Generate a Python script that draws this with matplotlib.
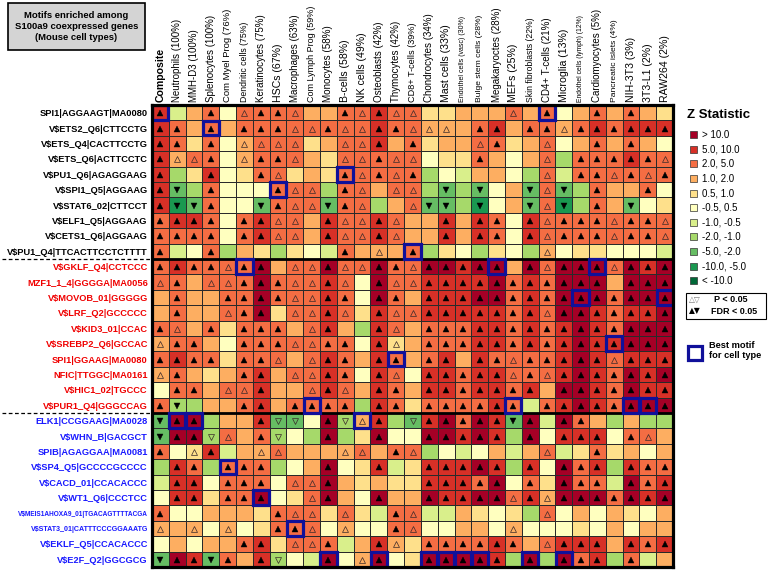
import numpy as np
import matplotlib
matplotlib.use('Agg')
import matplotlib.pyplot as plt
from matplotlib.colors import ListedColormap, BoundaryNorm
from matplotlib.patches import Rectangle

plt.rcParams['font.family'] = ['Liberation Sans', 'DejaVu Sans']

# cell types (columns)
cell_types = ['Composite', 'Neutrophils (100%)', 'MMH-D3 (100%)', 'Splenocytes (100%)',
              'Com Myel Prog (76%)', 'Dendritic cells (75%)', 'Keratinocytes (75%)', 'HSCs (67%)',
              'Macrophages (63%)', 'Com Lymph Prog (59%)', 'Monocytes (58%)', 'B-cells (58%)',
              'NK cells (49%)', 'Osteoblasts (42%)', 'Thymocytes (42%)', 'CD8+ T-cells (39%)',
              'Chondrocytes (34%)', 'Mast cells (33%)', 'Endothel cells (vasc) (30%)',
              'Bulge stem cells (28%)', 'Megakaryoctes (28%)', 'MEFs (25%)',
              'Skin fibroblasts (22%)', 'CD4+ T-cells (21%)', 'Microglia (13%)',
              'Endothel cells (lymph) (12%)', 'Cardiomyocytes (5%)', 'Pancreatic islets (4%)',
              'NIH-3T3 (3%)', '3T3-L1 (2%)', 'RAW264 (2%)']
header_size = [7.6, 7, 7, 7, 6.8, 6.3, 7, 7.6, 7, 6.5, 7.1, 7.6, 7.6, 7, 7, 6.6,
               7, 7.6, 5.0, 6.1, 7, 7.6, 6.2, 7, 7.6, 4.9, 7, 6.1, 7.6, 7.6, 7.6]

# motifs (rows), three groups
motifs_black = ['SPI1|AGGAAGT|MA0080', 'V$ETS2_Q6|CTTCCTG', 'V$ETS_Q4|CACTTCCTG',
                'V$ETS_Q6|ACTTCCTC', 'V$PU1_Q6|AGAGGAAG', 'V$SPI1_Q5|AGGAAG',
                'V$STAT6_02|CTTCCT', 'V$ELF1_Q5|AGGAAG', 'V$CETS1_Q6|AGGAAG',
                'V$PU1_Q4|TTCACTTCCTCTTTT']
motifs_red = ['V$GKLF_Q4|CCTCCC', 'MZF1_1_4|GGGGA|MA0056', 'V$MOVOB_01|GGGGG',
              'V$LRF_Q2|GCCCCC', 'V$KID3_01|CCAC', 'V$SREBP2_Q6|GCCAC',
              'SPI1|GGAAG|MA0080', 'NFIC|TTGGC|MA0161', 'V$HIC1_02|TGCCC',
              'V$PUR1_Q4|GGGCCAG']
motifs_blue = ['ELK1|CCGGAAG|MA0028', 'V$WHN_B|GACGCT', 'SPIB|AGAGGAA|MA0081',
               'V$SP4_Q5|GCCCCGCCCC', 'V$CACD_01|CCACACCC', 'V$WT1_Q6|CCCTCC',
               'V$MEIS1AHOXA9_01|TGACAGTTTTACGA', 'V$STAT3_01|CATTTCCCGGAAATG',
               'V$EKLF_Q5|CCACACCC', 'V$E2F_Q2|GGCGCG']

# Z statistic bin per cell: 5 >10, 4 5..10, 3 2..5, 2 1..2, 1 0.5..1, 0 -0.5..0.5,
# a -1..-0.5, b -2..-1, c -5..-2, d -10..-5, e < -10
zbin_rows = [
    '4a23033332' '2334331122' '23230232321',
    '4323233333' '3334332223' '42332343444',
    '4313023331' '2334231223' '31230232320',
    '4233023332' '1333330113' '2023b333433',
    '4b14013312' '133333b0a2' '20b3a333333',
    '4cb3000333' 'b33233bcbc' '02c3cb32230',
    '4dc300c333' 'c33b23ccbd' '02c3db32c01',
    '3443034332' '4334322424' '30433333333',
    '3333034332' '4334322424' '30433333333',
    '3a03b21b10' 'a32223b10b' '10b2011000a',
    '3433335233' '5335335545' '52535553545',
    '3323335333' '4305334444' '53435552555',
    '2322335333' '4305324445' '53435553555',
    '2322335133' '4314334444' '43435543445',
    '3323133323' '42b4323334' '43434543555',
    '2332033333' '3304123334' '43434544555',
    '3433133323' '4324323424' '33334543444',
    '2321234233' '4304304434' '43334543545',
    '0332334223' '4324324434' '43425543544',
    '3bb2234233' '33b4313333' '43a34543555',
    'c55b224cc0' '5b24bc4535' '4c5a532b2bb',
    'c55b323b0b' '5b15005545' '4b504440332',
    '3014a22322' '223233b0a0' '2a23a131202',
    'b43b333b02' '5014a14445' '4b40534b433',
    'a440333033' '5212114443' '5031533a534',
    '0441335013' '5205225445' '53425553545',
    '3002221333' '131a33aa21' '01b30202102',
    '2220201333' '0200330022' '02000102022',
    '0202234133' '3a24213333' '43234442434',
    'c54c324b0a' '5025015555' '4b5b534b3a2',
]

# significance: F up FDR<0.05, o up P<0.05, V down FDR<0.05, v down P<0.05
sig_rows = [
    'F..F.oFFo.' '.FoFoo....' '.o.F..F.F..',
    'FF.F.FFFoo' 'FooFFooo.F' 'F.FFoFFFFFF',
    'FF.F.oooo.' '.ooF.F...o' 'F..o..F.F..',
    'FooF.oFFo.' '.ooFoo...F' '...o.FFFFFo',
    'F..F..Fo..' '.FoFoF....' '...o.FFoFoF',
    'FV.F...Foo' '.Fo.oo.V.V' '..VoV.F..F.',
    'FVVF..VFoo' 'VFo..oVV.V' '..VoV.F.V..',
    'FFFF.FFoo.' 'FooFo..F.F' 'F.FoFFFoFFo',
    'FFFF.FFoo.' 'FooFo..F.F' 'F.FoFFFoFFo',
    'F..F......' '.F.o.F....' '...o.......',
    'FFFFoFF.oo' 'FooFFoFFFF' 'F.FoFFFoFFF',
    'oF.ooFFFoo' 'Fo.FooFFFF' 'FFFFFFF.FFF',
    '.F..FFFFoo' 'FF.FF.FFFF' 'FFFFFFFFFFF',
    '.F..oFF.oo' 'Fo.FooFFFF' 'FFFoFFFFFFF',
    'Fo.F.FFF.o' 'F..Fo.FFFF' 'FFFFFFFFFFF',
    'oFF..FFFoo' 'FF.Fo.FFFF' 'FFFFFFFFFFF',
    'FFFF.FFo.o' 'FF.FF.FF.F' 'FoFFFFFoFFF',
    'oF...FF.oo' 'FF.Fo.FFFF' 'FoFoFFFFFFF',
    '.FF.ooF..o' 'Fo.FF.FFFF' 'FFF.FFFFFFF',
    'FV...FF.FF' 'FF.FF.FFFF' 'FF.FFFFFFFF',
    'VFF...Fvv.' 'FvoF.vFFFF' 'FVF.FF.....',
    'VFFvo.Fv..' 'F..F..FFFF' 'F.F.FFF.Fo.',
    'F.oF..oo..' '.oo.Fo....' '...o..F....',
    '.FF.FFF...' 'F..F..FFFF' 'F.F.FFF.FFF',
    '.FF.FFF.oo' 'F.....FFFF' 'F.F.FFF.FFF',
    '.FF.FFF..o' 'F..F..FFFF' 'FoFoFFFFFFF',
    'F......Foo' '.o..Fo....' '...o.......',
    'o.o.o..FFo' '.o..Fo....' '.o.........',
    '.....FF.oo' 'F..Fo.FFFF' 'FF.oFFF.FFF',
    'VFFVF.Fv..' 'F.oF..FFFF' 'F.F.FFF.F..',
]

# best motif (row index) for each cell type
best_row = [0, 20, 20, 1, 23, 10, 25, 5, 27, 19, 29, 4, 20, 29, 16, 9,
            29, 29, 29, 29, 10, 19, 29, 0, 29, 12, 10, 15, 19, 19, 12]

legend_labels = ['> 10.0', '5.0, 10.0', '2.0, 5.0', '1.0, 2.0', '0.5, 1.0', '-0.5, 0.5',
                 '-1.0, -0.5', '-2.0, -1.0', '-5.0, -2.0', '-10.0, -5.0', '< -10.0']
bin_codes = ['5', '4', '3', '2', '1', '0', 'a', 'b', 'c', 'd', 'e']
bin_value = [15, 7.5, 3, 1.5, 0.75, 0, -0.75, -1.5, -3, -7.5, -15]
bin_colors = ['#a50026', '#d73027', '#f46d43', '#fdae61', '#fee08b', '#ffffbf',
              '#d9ef8b', '#a6d96a', '#66bd63', '#1a9850', '#006837']

motifs = motifs_black + motifs_red + motifs_blue
label_colors = ['black'] * 10 + ['#f00000'] * 10 + ['#1a1aff'] * 10

code_to_val = dict(zip(bin_codes, bin_value))
Z = np.array([[code_to_val[c] for c in row] for row in zbin_rows])
nrow, ncol = Z.shape

W, H = 769, 571
def fx(x):
    return x / W
def fy(y):
    return 1 - y / H

fig = plt.figure(figsize=(W / 100, H / 100), dpi=100)
ax = fig.add_axes([fx(152), fy(567), (673 - 152) / W, (567 - 105) / H])

cmap = ListedColormap(bin_colors[::-1])
norm = BoundaryNorm([-1000, -10, -5, -2, -1, -0.5, 0.5, 1, 2, 5, 10, 1000], cmap.N)
ax.pcolormesh(np.arange(ncol + 1), np.arange(nrow + 1), Z, cmap=cmap, norm=norm,
              edgecolors='#2a2a2a', linewidth=0.6)
ax.set_xlim(0, ncol)
ax.set_ylim(nrow, 0)

# significance triangles
for i, row in enumerate(sig_rows):
    for j, s in enumerate(row):
        if s == '.':
            continue
        mk = '^' if s in 'Fo' else 'v'
        if s in 'FV':
            ax.plot(j + 0.5, i + 0.53, marker=mk, ms=4.8, color='black', mec='black', mew=0.3)
        else:
            ax.plot(j + 0.5, i + 0.53, marker=mk, ms=4.6, mfc='none', mec='#3a2a2a', mew=0.5)

# best motif boxes
for j, i in enumerate(best_row):
    ax.add_patch(Rectangle((j + 0.02, i + 0.02), 0.96, 0.96, fill=False,
                           edgecolor='#10109a', lw=2.3, zorder=5))

# group separators
for yb in [10, 20]:
    ax.axhline(yb, color='black', lw=2.0, zorder=4)
    ax.plot([-8.9, 0], [yb, yb], color='black', lw=0.9, ls=(0, (3, 2)), clip_on=False)

for sp in ax.spines.values():
    sp.set_linewidth(2.3)
    sp.set_zorder(6)

ax.set_xticks([])
ax.set_yticks(np.arange(nrow) + 0.5)
ax.set_yticklabels(motifs)
ax.tick_params(axis='y', length=0, pad=3)
for i, t in enumerate(ax.get_yticklabels()):
    t.set_color(label_colors[i])
    t.set_fontweight('bold')
    t.set_fontsize(6.7)
    if len(motifs[i]) > 28:
        t.set_fontsize(4.7)
    elif len(motifs[i]) > 25:
        t.set_fontsize(5.1)

# column headers
for j, name in enumerate(cell_types):
    ax.text(j + 0.5, -0.2, name, rotation=90, ha='center', va='bottom',
            fontsize=header_size[j], fontweight='bold' if j == 0 else 'normal')

# title box
fig.add_artist(Rectangle((fx(8), fy(50)), 137 / W, 47 / H, transform=fig.transFigure,
                         facecolor='#d4d4d4', edgecolor='black', lw=1.2))
fig.text(fx(76.5), fy(26.5), 'Motifs enriched among\nS100a9 coexpressed genes\n(Mouse cell types)',
         ha='center', va='center', fontsize=6.8, fontweight='bold', linespacing=1.35)

# legend for Z statistic
fig.text(fx(687), fy(115), 'Z Statistic', fontsize=9.5, fontweight='bold', va='center')
for k, (lab, col) in enumerate(zip(legend_labels, bin_colors)):
    yc = 134.7 + k * 14.6
    fig.add_artist(Rectangle((fx(690), fy(yc + 3.5)), 7 / W, 7 / H, transform=fig.transFigure,
                             facecolor=col, edgecolor='#333333', lw=0.5))
    fig.text(fx(702), fy(yc), lab, fontsize=7, va='center')

# significance legend
fig.add_artist(Rectangle((fx(686), fy(318.5)), 80 / W, 26 / H, transform=fig.transFigure,
                         facecolor='white', edgecolor='black', lw=0.8))
fig.text(fx(689), fy(299.5), '△▽', fontsize=5.5, color='#777777', va='center',
         family=['DejaVu Sans'])
fig.text(fx(714), fy(299.5), 'P < 0.05', fontsize=6.5, fontweight='bold', va='center')
fig.text(fx(689), fy(311), '▲▼', fontsize=5.5, color='black', va='center',
         family=['DejaVu Sans'])
fig.text(fx(711), fy(311), 'FDR < 0.05', fontsize=6.5, fontweight='bold', va='center')

# best motif legend
fig.add_artist(Rectangle((fx(687.5), fy(360)), 14 / W, 14 / H, transform=fig.transFigure,
                         facecolor='white', edgecolor='#10109a', lw=2.3))
fig.text(fx(709), fy(341.5), 'Best motif\nfor cell type', fontsize=6.7, fontweight='bold',
         va='top', linespacing=1.1)

fig.savefig('out.png', dpi=100)
